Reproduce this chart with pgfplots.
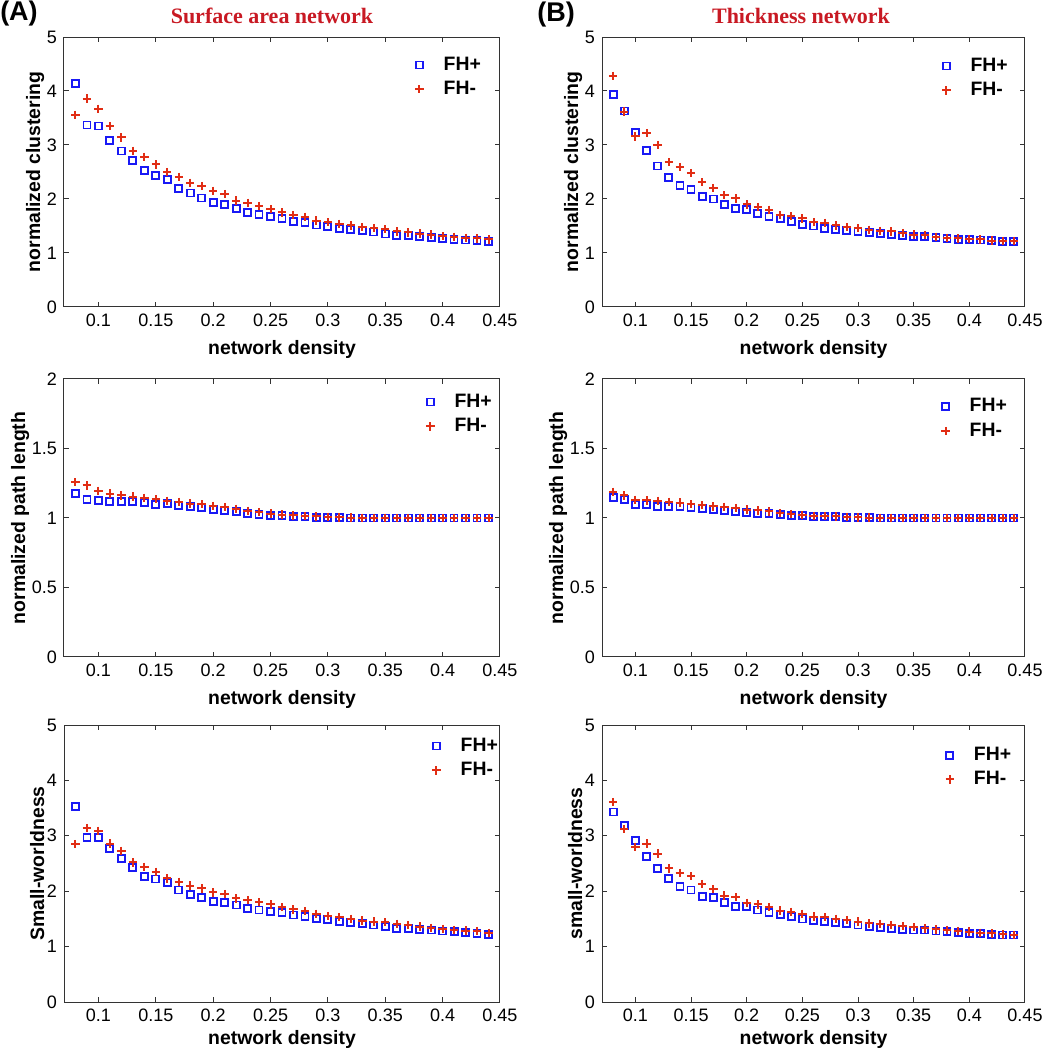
\documentclass[border=0pt]{standalone}
\usepackage{pgfplots}
\usepackage{pgfplotstable}
\pgfplotsset{compat=1.18}
\usepackage{fontspec}
\setmainfont{Liberation Sans}
\newfontfamily\titlefont{Liberation Serif}
\definecolor{mblue}{RGB}{25,25,245}
\definecolor{mred}{RGB}{225,45,20}
\definecolor{tred}{RGB}{200,25,35}

\pgfplotstableread{
x p m
0.08 4.14 3.56
0.09 3.37 3.86
0.10 3.35 3.67
0.11 3.09 3.35
0.12 2.89 3.14
0.13 2.72 2.89
0.14 2.53 2.78
0.15 2.44 2.64
0.16 2.36 2.50
0.17 2.20 2.41
0.18 2.11 2.30
0.19 2.02 2.24
0.20 1.94 2.15
0.21 1.90 2.09
0.22 1.82 1.97
0.23 1.75 1.93
0.24 1.71 1.87
0.25 1.68 1.81
0.26 1.64 1.75
0.27 1.59 1.70
0.28 1.56 1.67
0.29 1.52 1.60
0.30 1.49 1.57
0.31 1.46 1.54
0.32 1.43 1.51
0.33 1.41 1.48
0.34 1.39 1.46
0.35 1.35 1.44
0.36 1.33 1.40
0.37 1.32 1.38
0.38 1.30 1.36
0.39 1.28 1.34
0.40 1.27 1.31
0.41 1.25 1.30
0.42 1.24 1.28
0.43 1.23 1.27
0.44 1.21 1.25
}\tabAa

\pgfplotstableread{
x p m
0.08 3.93 4.28
0.09 3.63 3.62
0.10 3.23 3.16
0.11 2.90 3.22
0.12 2.61 3.00
0.13 2.40 2.68
0.14 2.25 2.59
0.15 2.18 2.48
0.16 2.04 2.31
0.17 2.00 2.20
0.18 1.90 2.07
0.19 1.82 2.01
0.20 1.81 1.90
0.21 1.73 1.85
0.22 1.67 1.80
0.23 1.64 1.70
0.24 1.59 1.68
0.25 1.53 1.64
0.26 1.50 1.57
0.27 1.46 1.56
0.28 1.44 1.51
0.29 1.42 1.48
0.30 1.40 1.46
0.31 1.38 1.43
0.32 1.36 1.41
0.33 1.34 1.40
0.34 1.33 1.37
0.35 1.30 1.34
0.36 1.30 1.33
0.37 1.28 1.30
0.38 1.27 1.28
0.39 1.25 1.27
0.40 1.25 1.26
0.41 1.24 1.25
0.42 1.23 1.23
0.43 1.22 1.22
0.44 1.21 1.22
}\tabBa

\pgfplotstableread{
x p m
0.08 1.174 1.257
0.09 1.135 1.234
0.10 1.128 1.195
0.11 1.116 1.176
0.12 1.116 1.162
0.13 1.116 1.154
0.14 1.114 1.145
0.15 1.099 1.135
0.16 1.102 1.123
0.17 1.092 1.116
0.18 1.085 1.104
0.19 1.073 1.099
0.20 1.061 1.087
0.21 1.054 1.078
0.22 1.044 1.066
0.23 1.032 1.052
0.24 1.028 1.042
0.25 1.020 1.032
0.26 1.016 1.025
0.27 1.011 1.018
0.28 1.008 1.013
0.29 1.005 1.011
0.30 1.003 1.008
0.31 1.001 1.005
0.32 1.000 1.003
0.33 1.000 1.002
0.34 1.000 1.001
0.35 1.000 1.001
0.36 1.000 1.000
0.37 1.000 1.000
0.38 1.000 1.000
0.39 1.000 1.000
0.40 1.000 1.000
0.41 1.000 1.000
0.42 1.000 1.000
0.43 1.000 1.000
0.44 1.000 1.000
}\tabAb

\pgfplotstableread{
x p m
0.08 1.147 1.188
0.09 1.135 1.162
0.10 1.099 1.131
0.11 1.099 1.126
0.12 1.085 1.123
0.13 1.080 1.116
0.14 1.080 1.111
0.15 1.075 1.099
0.16 1.068 1.092
0.17 1.061 1.083
0.18 1.054 1.080
0.19 1.049 1.071
0.20 1.042 1.061
0.21 1.035 1.054
0.22 1.030 1.047
0.23 1.025 1.035
0.24 1.018 1.028
0.25 1.016 1.020
0.26 1.013 1.016
0.27 1.011 1.013
0.28 1.008 1.011
0.29 1.005 1.008
0.30 1.003 1.005
0.31 1.001 1.003
0.32 1.000 1.002
0.33 1.000 1.001
0.34 1.000 1.000
0.35 1.000 1.000
0.36 1.000 1.000
0.37 1.000 1.000
0.38 1.000 1.000
0.39 1.000 1.000
0.40 1.000 1.000
0.41 1.000 1.000
0.42 1.000 1.000
0.43 1.000 1.000
0.44 1.000 1.000
}\tabBb

\pgfplotstableread{
x p m
0.08 3.53 2.85
0.09 2.97 3.14
0.10 2.97 3.09
0.11 2.77 2.86
0.12 2.59 2.73
0.13 2.43 2.52
0.14 2.27 2.44
0.15 2.22 2.35
0.16 2.15 2.23
0.17 2.02 2.17
0.18 1.94 2.10
0.19 1.88 2.05
0.20 1.82 1.98
0.21 1.80 1.95
0.22 1.75 1.87
0.23 1.69 1.84
0.24 1.66 1.80
0.25 1.64 1.76
0.26 1.61 1.71
0.27 1.57 1.67
0.28 1.54 1.64
0.29 1.51 1.59
0.30 1.49 1.55
0.31 1.46 1.53
0.32 1.43 1.50
0.33 1.41 1.47
0.34 1.39 1.45
0.35 1.36 1.44
0.36 1.33 1.41
0.37 1.33 1.39
0.38 1.31 1.36
0.39 1.30 1.34
0.40 1.28 1.32
0.41 1.27 1.30
0.42 1.25 1.29
0.43 1.24 1.28
0.44 1.22 1.25
}\tabAc

\pgfplotstableread{
x p m
0.08 3.43 3.61
0.09 3.19 3.12
0.10 2.92 2.80
0.11 2.62 2.86
0.12 2.41 2.68
0.13 2.23 2.41
0.14 2.08 2.33
0.15 2.02 2.27
0.16 1.91 2.13
0.17 1.88 2.04
0.18 1.80 1.92
0.19 1.73 1.89
0.20 1.73 1.79
0.21 1.66 1.76
0.22 1.62 1.71
0.23 1.58 1.65
0.24 1.54 1.63
0.25 1.50 1.59
0.26 1.47 1.54
0.27 1.45 1.53
0.28 1.44 1.50
0.29 1.41 1.48
0.30 1.39 1.45
0.31 1.36 1.42
0.32 1.35 1.41
0.33 1.33 1.39
0.34 1.31 1.37
0.35 1.30 1.35
0.36 1.30 1.33
0.37 1.28 1.31
0.38 1.27 1.30
0.39 1.25 1.28
0.40 1.24 1.27
0.41 1.24 1.25
0.42 1.22 1.24
0.43 1.21 1.22
0.44 1.21 1.21
}\tabBc

\pgfplotsset{
  panel/.style={
    scale only axis,
    anchor=south west,
    xmin=0.07, xmax=0.45,
    xtick={0.1,0.15,0.2,0.25,0.3,0.35,0.4,0.45},
    xticklabels={0.1,0.15,0.2,0.25,0.3,0.35,0.4,0.45},
    tick align=inside,
    major tick length=2.5pt,
    axis line style={black!80, line width=0.5pt},
    every tick/.style={black!80, line width=0.5pt},
    tick label style={font=\fontsize{9}{10}\selectfont},
    label style={font=\bfseries\fontsize{9.7}{11}\selectfont},
    ylabel style={yshift=-5.5pt},
    xlabel={network density},
    /pgf/number format/assume math mode=true,
    legend style={draw=none, fill=none, font=\bfseries\fontsize{9.7}{11}\selectfont, anchor=north west,
      /tikz/every odd column/.append style={column sep=8pt}},
    legend cell align=left,
  },
  fhp/.style={only marks, mark=square, mark size=1.75pt, color=mblue, line width=0.9pt},
  fhm/.style={only marks, mark=+, mark size=2.1pt, color=mred, line width=1pt},
}

\begin{document}
\begin{tikzpicture}
\path[use as bounding box] (0,0) rectangle (525pt,525pt);

% Row 1
\begin{axis}[panel, at={(32pt,371.5pt)}, width=218pt, height=135pt,
  ymin=0, ymax=5, ytick={0,1,2,3,4,5}, ylabel={normalized clustering},
  legend style={at={(axis description cs:0.791,0.958)}}]
\addplot[fhp] table[x=x,y=p]{\tabAa};
\addplot[fhm] table[x=x,y=m]{\tabAa};
\legend{FH+,FH-}
\end{axis}
\begin{axis}[panel, at={(301pt,371.5pt)}, width=211.5pt, height=135pt,
  ymin=0, ymax=5, ytick={0,1,2,3,4,5}, ylabel={normalized clustering},
  legend style={at={(axis description cs:0.789,0.954)}}]
\addplot[fhp] table[x=x,y=p]{\tabBa};
\addplot[fhm] table[x=x,y=m]{\tabBa};
\legend{FH+,FH-}
\end{axis}

% Row 2
\begin{axis}[panel, at={(32pt,196.5pt)}, width=218pt, height=139pt,
  ymin=0, ymax=2, ytick={0,0.5,1,1.5,2}, ylabel={normalized path length},
  legend style={at={(axis description cs:0.816,0.977)}}]
\addplot[fhp] table[x=x,y=p]{\tabAb};
\addplot[fhm] table[x=x,y=m]{\tabAb};
\legend{FH+,FH-}
\end{axis}
\begin{axis}[panel, at={(301pt,196.5pt)}, width=211.5pt, height=139pt,
  ymin=0, ymax=2, ytick={0,0.5,1,1.5,2}, ylabel={normalized path length},
  legend style={at={(axis description cs:0.787,0.96)}}]
\addplot[fhp] table[x=x,y=p]{\tabBb};
\addplot[fhm] table[x=x,y=m]{\tabBb};
\legend{FH+,FH-}
\end{axis}

% Row 3
\begin{axis}[panel, at={(32pt,24pt)}, width=218pt, height=138.5pt,
  ymin=0, ymax=5, ytick={0,1,2,3,4,5}, ylabel={Small-worldness},
  xlabel style={yshift=2.5pt},
  legend style={at={(axis description cs:0.830,0.984)}}]
\addplot[fhp] table[x=x,y=p]{\tabAc};
\addplot[fhm] table[x=x,y=m]{\tabAc};
\legend{FH+,FH-}
\end{axis}
\begin{axis}[panel, at={(301pt,24pt)}, width=211.5pt, height=138.5pt,
  ymin=0, ymax=5, ytick={0,1,2,3,4,5}, ylabel={small-worldness},
  xlabel style={yshift=2.5pt},
  legend style={at={(axis description cs:0.797,0.951)}}]
\addplot[fhp] table[x=x,y=p]{\tabBc};
\addplot[fhm] table[x=x,y=m]{\tabBc};
\legend{FH+,FH-}
\end{axis}

% Titles and panel letters
\node[font=\titlefont\bfseries\fontsize{11}{13}\selectfont, text=tred] at (136pt,517pt) {Surface area network};
\node[font=\titlefont\bfseries\fontsize{11}{13}\selectfont, text=tred] at (400.5pt,517pt) {Thickness network};
\node[font=\bfseries\fontsize{13.5}{15}\selectfont] at (9.5pt,518pt) {(A)};
\node[font=\bfseries\fontsize{13.5}{15}\selectfont] at (278pt,517.5pt) {(B)};
\end{tikzpicture}
\end{document}
